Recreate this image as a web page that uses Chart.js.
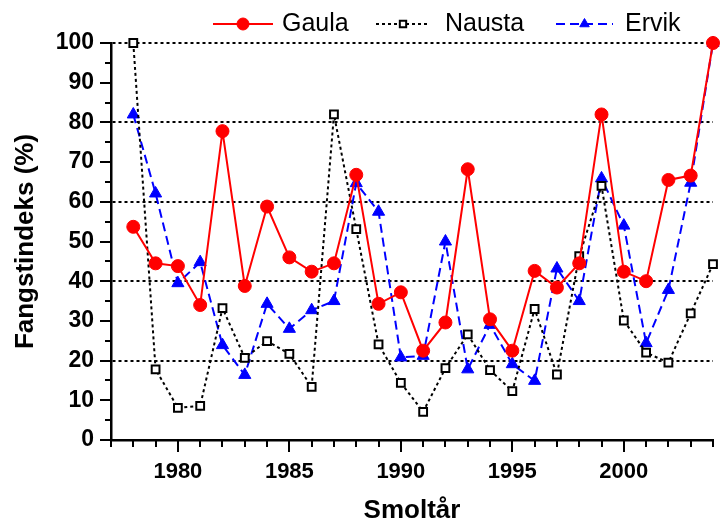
<!DOCTYPE html>
<html>
<head>
<meta charset="utf-8">
<title>Fangstindeks</title>
<script src="https://cdn.jsdelivr.net/npm/chart.js@4.4.1/dist/chart.umd.min.js"></script>
<style>
body { margin: 0; background: #fff; }
</style>
</head>
<body>
<canvas id="myChart" width="721" height="522"></canvas>
<script>
// values (Fangstindeks in %)
var years  = [1978, 1979, 1980, 1981, 1982, 1983, 1984, 1985, 1986, 1987, 1988, 1989, 1990, 1991,
              1992, 1993, 1994, 1995, 1996, 1997, 1998, 1999, 2000, 2001, 2002, 2003, 2004];
var gaula  = [53.7, 44.5, 43.8, 34.0, 77.8, 38.8, 58.8, 46.0, 42.4, 44.5, 66.8, 34.3, 37.2, 22.5,
              29.6, 68.2, 30.4, 22.5, 42.6, 38.4, 44.5, 82.0, 42.4, 40.0, 65.5, 66.6, 100];
var nausta = [100, 17.8, 8.1, 8.6, 33.2, 20.7, 24.9, 21.7, 13.4, 82.0, 53.1, 24.1, 14.4, 7.1,
              18.1, 26.6, 17.6, 12.3, 33.0, 16.5, 46.3, 64.0, 30.1, 22.0, 19.5, 31.9, 44.3];
var ervik  = [82.0, 62.1, 39.5, 44.8, 23.9, 16.4, 34.3, 28.0, 32.7, 35.0, 64.7, 57.5, 20.8, 21.2,
              50.0, 17.8, 29.0, 19.1, 14.9, 43.2, 35.0, 65.9, 54.0, 24.4, 37.8, 64.8, 100];
var seriesNames = ['Gaula', 'Nausta', 'Ervik'];
var xTickLabels = [1980, 1985, 1990, 1995, 2000];
var yTickLabels = [0, 10, 20, 30, 40, 50, 60, 70, 80, 90, 100];
var gridValues  = [20, 40, 60, 80, 100];

var FONT = '"Liberation Sans", Arial, sans-serif';

function toPoints(vals) {
    return years.map(function (yr, i) { return { x: yr, y: vals[i] }; });
}

// legend: line sample + marker, like the original plot program draws it
var legendSlots = [
    { x0: 213, x1: 273, tx: 282, r: 6 },
    { x0: 376, x1: 430, tx: 445, r: 4.5 },
    { x0: 556, x1: 613, tx: 625, r: 5.5 }
];
var legendY = 24;

function drawMarker(ctx, ds, x, y, r) {
    ctx.save();
    ctx.setLineDash([]);
    ctx.fillStyle = ds.pointBackgroundColor;
    ctx.strokeStyle = ds.pointBorderColor;
    ctx.lineWidth = ds.pointBorderWidth;
    ctx.beginPath();
    if (ds.pointStyle === 'circle') {
        ctx.arc(x, y, r, 0, Math.PI * 2);
    } else if (ds.pointStyle === 'rect') {
        var s = r * Math.SQRT1_2;
        ctx.rect(x - s, y - s, 2 * s, 2 * s);
    } else {
        ctx.moveTo(x, y - r);
        ctx.lineTo(x + r * 0.866, y + r * 0.5);
        ctx.lineTo(x - r * 0.866, y + r * 0.5);
        ctx.closePath();
    }
    ctx.fill();
    ctx.stroke();
    ctx.restore();
}

var lineLegend = {
    id: 'lineLegend',
    afterDraw: function (chart) {
        var ctx = chart.ctx;
        chart.data.datasets.forEach(function (ds, i) {
            var slot = legendSlots[i];
            ctx.save();
            ctx.strokeStyle = ds.borderColor;
            ctx.lineWidth = ds.borderWidth;
            ctx.setLineDash(ds.borderDash || []);
            ctx.beginPath();
            ctx.moveTo(slot.x0, legendY);
            ctx.lineTo(slot.x1, legendY);
            ctx.stroke();
            ctx.restore();
            drawMarker(ctx, ds, (slot.x0 + slot.x1) / 2, legendY, slot.r);
            ctx.save();
            ctx.fillStyle = '#000';
            ctx.font = '25px ' + FONT;
            ctx.textBaseline = 'middle';
            ctx.textAlign = 'left';
            ctx.fillText(ds.label, slot.tx, legendY);
            ctx.restore();
        });
    }
};

// outward tick marks, long on labelled values and short in between
var tickMarks = {
    id: 'tickMarks',
    afterDraw: function (chart) {
        var ctx = chart.ctx, xs = chart.scales.x, ys = chart.scales.y, area = chart.chartArea;
        ctx.save();
        ctx.strokeStyle = '#000';
        ctx.lineWidth = 2;
        ctx.beginPath();
        for (var v = xs.min; v <= xs.max; v++) {
            var px = Math.round(xs.getPixelForValue(v));
            ctx.moveTo(px, area.bottom);
            ctx.lineTo(px, area.bottom + (v % 5 === 0 ? 12 : 7));
        }
        for (var w = ys.min; w <= ys.max; w += 5) {
            var py = Math.round(ys.getPixelForValue(w));
            ctx.moveTo(area.left, py);
            ctx.lineTo(area.left - (w % 10 === 0 ? 11 : 6), py);
        }
        ctx.stroke();
        ctx.restore();
    }
};

var myChart = new Chart(document.getElementById('myChart').getContext('2d'), {
    type: 'line',
    data: {
        datasets: [{
            label: seriesNames[0],
            data: toPoints(gaula),
            borderColor: '#ff0000',
            borderWidth: 2,
            pointStyle: 'circle',
            pointRadius: 6.5,
            pointBackgroundColor: '#ff0000',
            pointBorderColor: '#ff0000',
            pointBorderWidth: 1,
            clip: false
        }, {
            label: seriesNames[1],
            data: toPoints(nausta),
            borderColor: '#000000',
            borderWidth: 2,
            borderDash: [3, 3],
            pointStyle: 'rect',
            pointRadius: 5.5,
            pointBackgroundColor: '#ffffff',
            pointBorderColor: '#000000',
            pointBorderWidth: 2,
            clip: false
        }, {
            label: seriesNames[2],
            data: toPoints(ervik),
            borderColor: '#0000ff',
            borderWidth: 2,
            borderDash: [9, 5],
            pointStyle: 'triangle',
            pointRadius: 7,
            pointBackgroundColor: '#0000ff',
            pointBorderColor: '#0000ff',
            pointBorderWidth: 1,
            clip: false
        }]
    },
    options: {
        responsive: false,
        animation: false,
        layout: { padding: { top: 43, right: 6, left: 0, bottom: 0 } },
        plugins: {
            legend: { display: false },
            tooltip: { enabled: false }
        },
        scales: {
            x: {
                type: 'linear',
                min: 1977,
                max: 2004,
                afterFit: function (scale) {
                    scale.height = 82;
                    scale.paddingLeft = 0;
                    scale.paddingRight = 0;
                },
                grid: { display: false, drawTicks: false },
                border: { color: '#000', width: 2.5 },
                ticks: {
                    stepSize: 1,
                    autoSkip: false,
                    maxRotation: 0,
                    padding: 19,
                    color: '#000',
                    font: { family: FONT, size: 22, weight: 'bold' },
                    callback: function (v) { return xTickLabels.indexOf(v) >= 0 ? String(v) : ''; }
                },
                title: {
                    display: true,
                    text: 'Smoltår',
                    color: '#000',
                    padding: 0,
                    font: { family: FONT, size: 26, weight: 'bold', lineHeight: 0.88 }
                }
            },
            y: {
                min: 0,
                max: 100,
                afterFit: function (scale) { scale.width = 111; },
                grid: {
                    drawTicks: false,
                    lineWidth: 2,
                    color: function (c) {
                        return c.tick && gridValues.indexOf(c.tick.value) >= 0 ? '#000' : 'rgba(0,0,0,0)';
                    }
                },
                border: { color: '#000', width: 2.5, dash: [3, 3] },
                ticks: {
                    stepSize: 10,
                    padding: 17,
                    color: '#000',
                    font: { family: FONT, size: 23, weight: 'bold' },
                    callback: function (v) { return yTickLabels.indexOf(v) >= 0 ? String(v) : ''; }
                },
                title: {
                    display: true,
                    text: 'Fangstindeks (%)',
                    color: '#000',
                    padding: { top: 10, bottom: 0 },
                    font: { family: FONT, size: 26, weight: 'bold' }
                }
            }
        }
    },
    plugins: [tickMarks, lineLegend]
});
</script>
</body>
</html>
